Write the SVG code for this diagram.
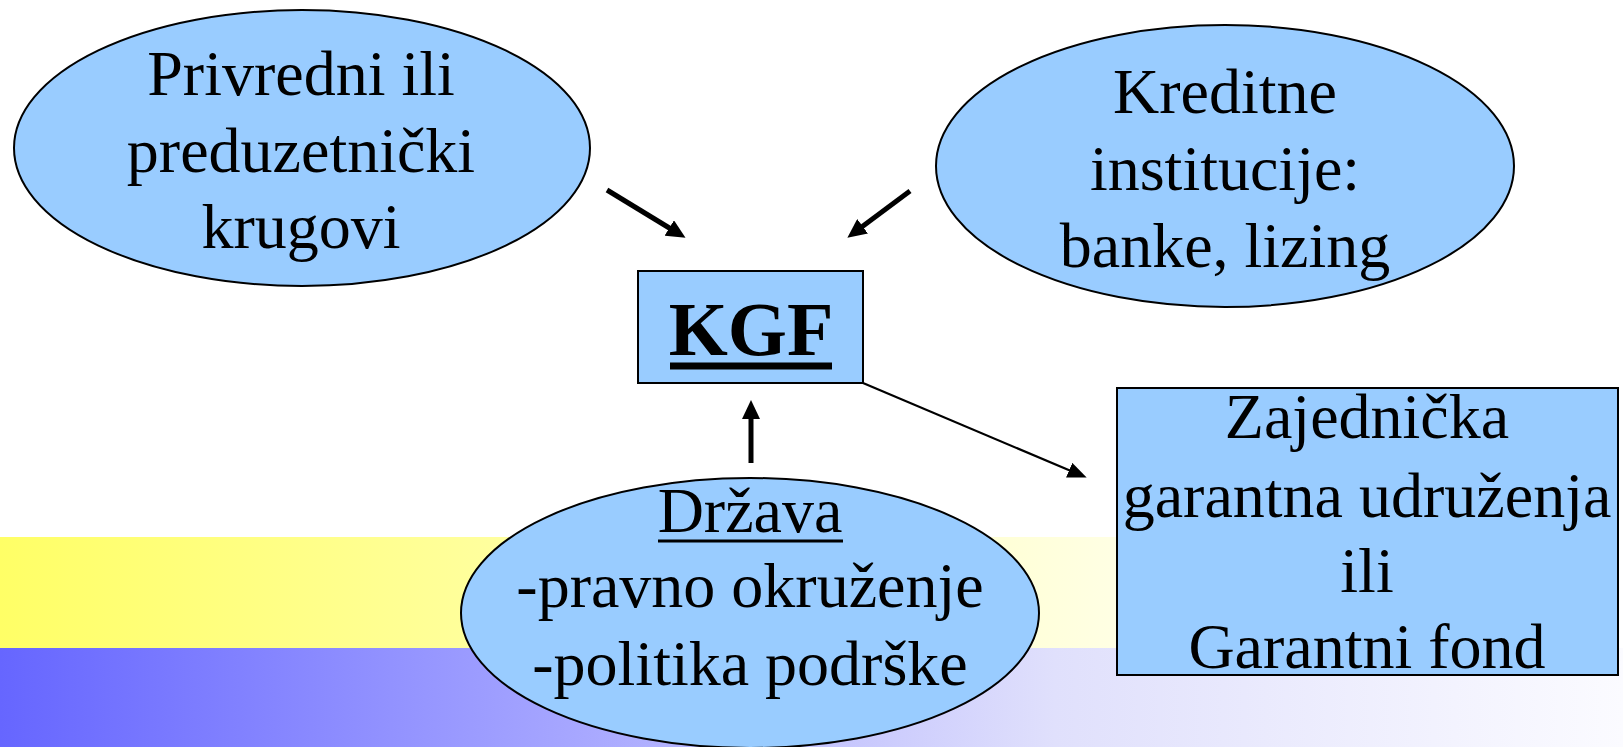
<svg xmlns="http://www.w3.org/2000/svg" width="1623" height="747" viewBox="0 0 1623 747">
  <style>
    .node { fill: #99CCFF; stroke: #000; stroke-width: 2; }
    .lbl { font-family: "Liberation Serif", "Times New Roman", serif; font-size: 64px; fill: #000; text-anchor: middle; }
    .kgf { font-family: "Liberation Serif", "Times New Roman", serif; font-size: 76px; font-weight: bold; fill: #000; text-anchor: middle; }
    .thick { stroke: #000; stroke-width: 5; fill: none; }
    .thin { stroke: #000; stroke-width: 2.2; fill: none; }
  </style>
  <defs>
    <linearGradient id="gy" x1="0" y1="0" x2="1" y2="0">
      <stop offset="0" stop-color="#FFFF66"/>
      <stop offset="0.7" stop-color="#FFFFE6"/>
      <stop offset="1" stop-color="#FFFFFF"/>
    </linearGradient>
    <linearGradient id="gb" x1="0" y1="0" x2="1" y2="0">
      <stop offset="0" stop-color="#6666FF"/>
      <stop offset="0.35" stop-color="#A6A6FF"/>
      <stop offset="0.65" stop-color="#E0E0FC"/>
      <stop offset="1" stop-color="#FBFBFF"/>
    </linearGradient>
    <marker id="ah" markerUnits="userSpaceOnUse" markerWidth="20" markerHeight="18" refX="2" refY="9" orient="auto">
      <path d="M0,0 L19,9 L0,18 z" fill="#000"/>
    </marker>
    <marker id="ahs" markerUnits="userSpaceOnUse" markerWidth="20" markerHeight="16" refX="2" refY="8" orient="auto">
      <path d="M0,0 L19,8 L0,16 z" fill="#000"/>
    </marker>
  </defs>

  <g id="background">
    <rect x="0" y="0" width="1623" height="747" fill="#FFFFFF"/>
    <rect x="0" y="537" width="1623" height="111" fill="url(#gy)"/>
    <rect x="0" y="648" width="1623" height="99" fill="url(#gb)"/>
  </g>

  <g id="connectors">
    <line class="thick" x1="607" y1="190" x2="671" y2="229" marker-end="url(#ah)"/>
    <line class="thick" x1="910" y1="191" x2="861" y2="227.5" marker-end="url(#ah)"/>
    <line class="thick" x1="751" y1="463" x2="751" y2="417" marker-end="url(#ah)"/>
    <line class="thin" x1="863" y1="383" x2="1071" y2="471" marker-end="url(#ahs)"/>
  </g>

  <g id="node-privredni">
    <ellipse class="node" cx="302" cy="148" rx="288" ry="138"/>
    <text class="lbl" x="301" y="95">Privredni ili</text>
    <text class="lbl" x="301" y="172">preduzetnički</text>
    <text class="lbl" x="301" y="248">krugovi</text>
  </g>

  <g id="node-kreditne">
    <ellipse class="node" cx="1225" cy="166" rx="289" ry="141"/>
    <text class="lbl" x="1225" y="113">Kreditne</text>
    <text class="lbl" x="1225" y="190">institucije:</text>
    <text class="lbl" x="1225" y="267">banke, lizing</text>
  </g>

  <g id="node-kgf">
    <rect class="node" x="638" y="271" width="225" height="112"/>
    <text class="kgf" x="751" y="355">KGF</text>
    <line x1="670" y1="366" x2="832" y2="366" stroke="#000" stroke-width="7"/>
  </g>

  <g id="node-drzava">
    <ellipse class="node" cx="750" cy="613" rx="289" ry="135"/>
    <text class="lbl" x="750" y="532">Država</text>
    <line x1="658" y1="541" x2="843" y2="541" stroke="#000" stroke-width="3"/>
    <text class="lbl" x="750" y="607">-pravno okruženje</text>
    <text class="lbl" x="750" y="685">-politika podrške</text>
  </g>

  <g id="node-zajednicka">
    <rect class="node" x="1117" y="388" width="501" height="287"/>
    <text class="lbl" x="1367" y="438">Zajednička</text>
    <text class="lbl" x="1367" y="517">garantna udruženja</text>
    <text class="lbl" x="1367" y="592">ili</text>
    <text class="lbl" x="1367" y="668">Garantni fond</text>
  </g>
</svg>
